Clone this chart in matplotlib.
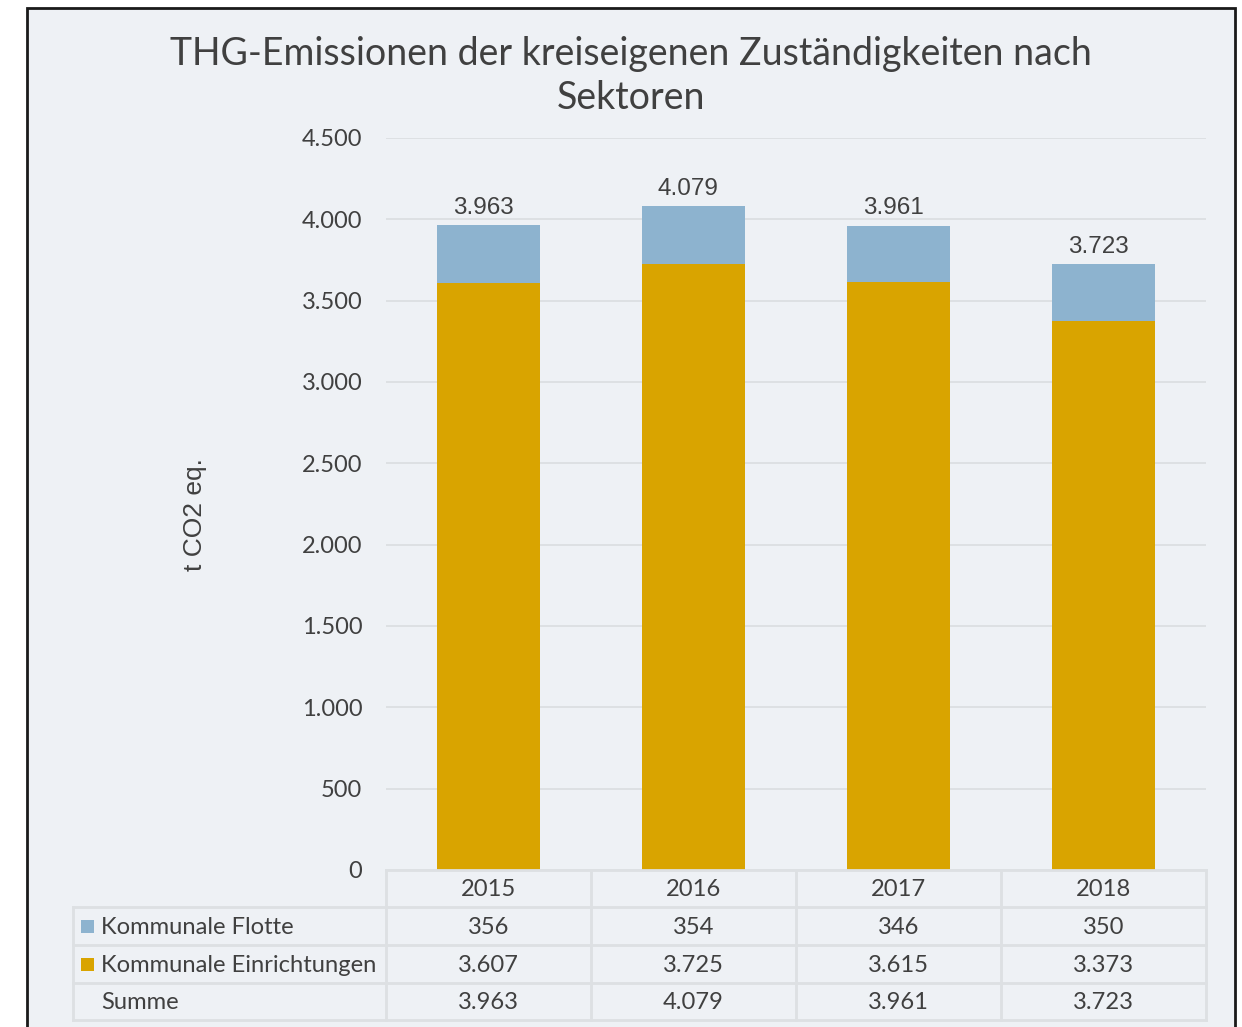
import matplotlib
matplotlib.use("Agg")
import matplotlib.pyplot as plt
from matplotlib.patches import Rectangle

years = ["2015", "2016", "2017", "2018"]
flotte = [356, 354, 346, 350]
einrichtungen = [3607, 3725, 3615, 3373]
summe = [3963, 4079, 3961, 3723]
series_names = ["Kommunale Flotte", "Kommunale Einrichtungen", "Summe"]
yticks = [0, 500, 1000, 1500, 2000, 2500, 3000, 3500, 4000, 4500]

def fmt(v):
    return f"{v:,}".replace(",", ".")

W, H = 1242, 1027
BG = "#EEF1F5"
BLUE = "#8DB3CF"
GOLD = "#D9A400"
TXT = "#404040"
GRID = "#DADDE0"
LATO = "Lato"
ARIAL = ["Liberation Sans", "DejaVu Sans"]

fig = plt.figure(figsize=(W / 100, H / 100), dpi=100, facecolor="white")

# background overlay
ov = fig.add_axes([0, 0, 1, 1], zorder=0)
ov.set_xlim(0, W)
ov.set_ylim(H, 0)
ov.axis("off")
ov.add_patch(Rectangle((27, 8), 1208, 1030, facecolor=BG, edgecolor="#1a1a1a", lw=2))

# main axes
x0, x1 = 386, 1206
ytop, ybot = 138, 870
ax = fig.add_axes([x0 / W, 1 - ybot / H, (x1 - x0) / W, (ybot - ytop) / H], zorder=1)
ax.set_facecolor("none")
xs = list(range(len(years)))
ax.bar(xs, einrichtungen, width=0.5, color=GOLD, zorder=3)
ax.bar(xs, flotte, bottom=einrichtungen, width=0.5, color=BLUE, zorder=3)
for x, s in zip(xs, summe):
    ax.text(x - 0.025, s + 38, fmt(s), ha="center", va="bottom", fontsize=17.5,
            family=ARIAL, color=TXT)
ax.set_xlim(-0.5, len(years) - 0.5)
ax.set_ylim(0, 4500)
ax.set_yticks(yticks)
ax.set_yticklabels([fmt(v) for v in yticks], fontsize=17, family=LATO, color=TXT)
ax.tick_params(axis="y", length=0, pad=17)
ax.set_xticks([])
for sp in ax.spines.values():
    sp.set_visible(False)
ax.yaxis.grid(True, color=GRID, lw=1.2, zorder=0)
ax.set_axisbelow(True)

fig.text(195 / W, 1 - 515 / H, "t CO2 eq.", rotation=90, ha="center", va="center",
         fontsize=19, family=ARIAL, color=TXT)

# title
fig.text(631 / W, 1 - 76 / H, "THG-Emissionen der kreiseigenen Zuständigkeiten nach\nSektoren",
         ha="center", va="center", fontsize=27, family=LATO, color=TXT, linespacing=1.3)

# data table
tb = fig.add_axes([0, 0, 1, 1], zorder=2)
tb.set_xlim(0, W)
tb.set_ylim(H, 0)
tb.axis("off")
colw = (x1 - x0) / len(years)
rows_y = [870, 907, 945, 983, 1020]
lc = "#DDE0E3"
lw = 2
tb.plot([x0, x1], [rows_y[0], rows_y[0]], color=lc, lw=lw)
for yy in rows_y[1:]:
    tb.plot([73, x1], [yy, yy], color=lc, lw=lw)
for i in range(len(years) + 1):
    xx = x0 + i * colw
    tb.plot([xx, xx], [rows_y[0], rows_y[-1]], color=lc, lw=lw)
tb.plot([73, 73], [rows_y[1], rows_y[-1]], color=lc, lw=lw)

rows = [years, [fmt(v) for v in flotte], [fmt(v) for v in einrichtungen], [fmt(v) for v in summe]]
for r, vals in enumerate(rows):
    yc = (rows_y[r] + rows_y[r + 1]) / 2 + 1
    for i, v in enumerate(vals):
        tb.text(x0 + (i + 0.5) * colw, yc, v, ha="center", va="center",
                fontsize=17.1, family=LATO, color=TXT)
    if r > 0:
        tb.text(101, yc, series_names[r - 1], ha="left", va="center",
                fontsize=17.1, family=LATO, color=TXT)
        if r < 3:
            col = BLUE if r == 1 else GOLD
            tb.add_patch(Rectangle((81, yc - 7), 13, 13, facecolor=col, edgecolor="none"))

fig.savefig("out.png", dpi=100, facecolor="white")
